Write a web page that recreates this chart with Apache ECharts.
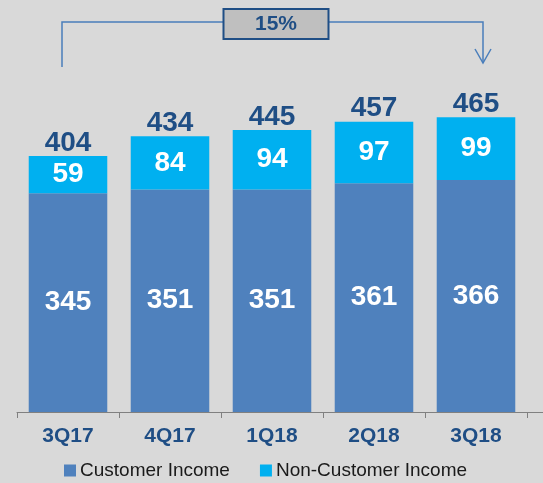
<!DOCTYPE html>
<html>
<head>
<meta charset="utf-8">
<script src="https://cdn.jsdelivr.net/npm/echarts@6/dist/echarts.min.js"></script>
<style>
html,body{margin:0;padding:0;background:#d9d9d9;}
#c{width:543px;height:483px;}
</style>
</head>
<body>
<div id="c"></div>
<script>
var categories = ['3Q17', '4Q17', '1Q18', '2Q18', '3Q18'];
var customerIncome = [345, 351, 351, 361, 366];
var nonCustomerIncome = [59, 84, 94, 97, 99];
var totals = [404, 434, 445, 457, 465];
var growthLabel = '15%';

var FONT = '"Liberation Sans Narrow", "Arial Narrow", "Liberation Sans", Arial, sans-serif';
var DARK = '#1f4e85';

var chart = echarts.init(document.getElementById('c'), null, {renderer: 'canvas'});
var option = {
  backgroundColor: '#d9d9d9',
  animation: false,
  grid: {left: 17, right: 16, top: 0, bottom: 71, containLabel: false},
  legend: {
    data: ['Customer Income', 'Non-Customer Income'],
    left: 62, top: 459, padding: 2,
    icon: 'rect', itemWidth: 12, itemHeight: 12, itemGap: 30,
    textStyle: {fontFamily: FONT, fontSize: 19, color: '#1a1a1a', padding: [0,0,0,-1]}
  },
  xAxis: {
    type: 'category', data: categories,
    axisLine: {lineStyle: {color: '#808080', width: 1}},
    axisTick: {show: true, length: 6, lineStyle: {color: '#808080'}},
    axisLabel: {fontFamily: FONT, fontSize: 21, fontWeight: 'bold', color: DARK, margin: 14}
  },
  yAxis: {type: 'value', min: 0, max: 650, show: false, splitLine: {show: false}},
  series: [
    {
      name: 'Customer Income', type: 'bar', stack: 'a', data: customerIncome,
      barCategoryGap: '23%',
      itemStyle: {color: '#4f81bd'},
      label: {show: true, position: 'inside', color: '#ffffff', fontFamily: FONT, fontSize: 28, fontWeight: 'bold'}
    },
    {
      name: 'Non-Customer Income', type: 'bar', stack: 'a', data: nonCustomerIncome,
      itemStyle: {color: '#00b0f0'},
      label: {show: true, position: 'inside', color: '#ffffff', fontFamily: FONT, fontSize: 28, fontWeight: 'bold'}
    },
    {
      name: 'Total', type: 'bar', stack: 'a', silent: true,
      data: totals.map(function () { return 0; }),
      itemStyle: {color: 'rgba(0,0,0,0)'},
      label: {show: true, position: 'top', distance: -1, color: DARK, fontFamily: FONT, fontSize: 28, fontWeight: 'bold',
        formatter: function (p) { return totals[p.dataIndex]; }}
    }
  ]
};
chart.setOption(option);

// growth bracket annotation anchored to first and last categories
var x0 = chart.convertToPixel({xAxisIndex: 0}, categories[0]) - 6;
var x1 = chart.convertToPixel({xAxisIndex: 0}, categories[categories.length - 1]) + 7;
var yLine = 22;
var axisY = chart.convertToPixel({yAxisIndex: 0}, 0);
var boxW = 105, boxH = 30, boxCx = 276;
var lineStyle = {stroke: '#4a7ebb', lineWidth: 1.5};
chart.setOption({
  graphic: [
    {type: 'polyline', shape: {points: [[x0, 67], [x0, yLine], [x1, yLine], [x1, 63]]}, style: lineStyle, z: 10},
    {type: 'polyline', shape: {points: [[x1 - 8, 49], [x1, 63], [x1 + 8, 49]]}, style: lineStyle, z: 10},
    {type: 'rect', shape: {x: boxCx - boxW / 2, y: yLine - boxH / 2 + 2, width: boxW, height: boxH},
      style: {fill: '#bfbfbf', stroke: DARK, lineWidth: 2}, z: 11},
    {type: 'text', x: boxCx, y: yLine + 2, z: 12,
      style: {text: growthLabel, fill: DARK, font: 'bold 21px ' + FONT, textAlign: 'center', textVerticalAlign: 'middle'}},
    {type: 'line', shape: {x1: 527, y1: axisY + 0.5, x2: 543, y2: axisY + 0.5}, style: {stroke: '#808080', lineWidth: 1}, z: 5}
  ]
});
</script>
</body>
</html>
